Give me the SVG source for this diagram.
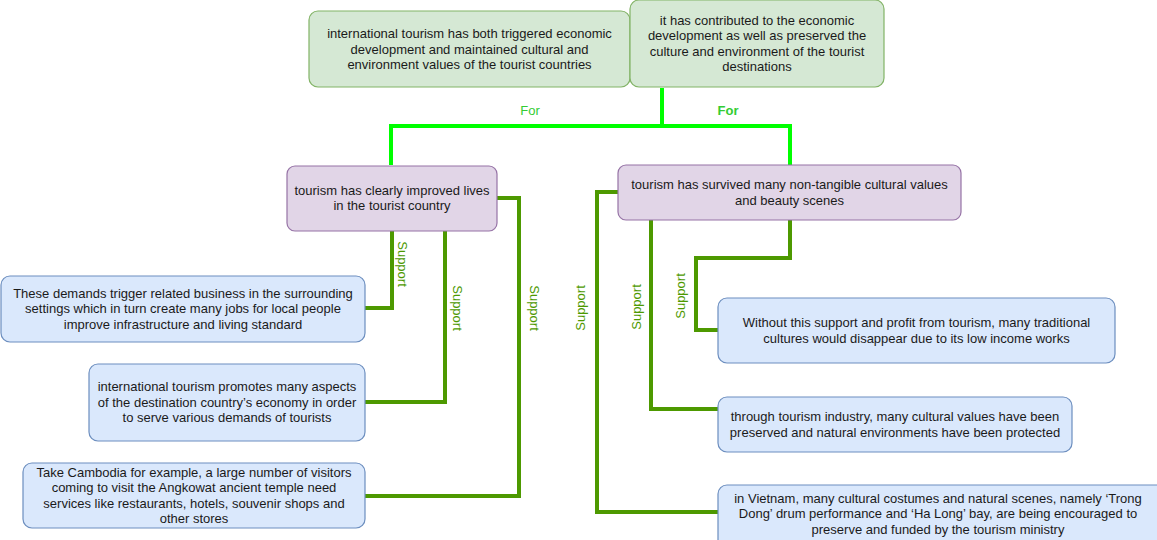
<svg xmlns="http://www.w3.org/2000/svg" width="1157" height="540" viewBox="0 0 1157 540">
<style>
  text { font-family: "Liberation Sans", Arial, Helvetica, sans-serif; font-size: 13px; fill: #1a1a1a; text-anchor: middle; }
  .green { fill: #d5e8d4; stroke: #82b366; stroke-width: 1.2; }
  .purple { fill: #e1d5e7; stroke: #9673a6; stroke-width: 1.2; }
  .blue { fill: #dae8fc; stroke: #6c8ebf; stroke-width: 1.2; }
  .for { fill: none; stroke: #00ff00; stroke-width: 4; }
  .sup { fill: none; stroke: #4d9900; stroke-width: 4; }
  .forlbl { fill: #33cc33; font-size: 13px; }
  .suplbl { fill: #4d9900; font-size: 13px; dominant-baseline: central; }
</style>
<rect width="1157" height="540" fill="#ffffff"/>
<g id="connectors">
  <path class="for" d="M662,88 V126 H391 V165"/>
  <path class="for" d="M662,126 H790 V165"/>
  <text class="forlbl" x="530" y="115">For</text>
  <text class="forlbl" x="728" y="115" font-weight="bold">For</text>
  <path class="sup" d="M392,231 V308 H365"/>
  <path class="sup" d="M445,231 V402 H365"/>
  <path class="sup" d="M497,198 H519 V496 H365"/>
  <path class="sup" d="M618,192 H597 V512 H718"/>
  <path class="sup" d="M651,220 V409 H718"/>
  <path class="sup" d="M790,220 V258 H696 V330 H718"/>
  <text class="suplbl" transform="translate(402,264) rotate(90)">Support</text>
  <text class="suplbl" transform="translate(457,308) rotate(90)">Support</text>
  <text class="suplbl" transform="translate(534,308) rotate(90)">Support</text>
  <text class="suplbl" transform="translate(580,308) rotate(-90)">Support</text>
  <text class="suplbl" transform="translate(636,307) rotate(-90)">Support</text>
  <text class="suplbl" transform="translate(680,296) rotate(-90)">Support</text>
</g>
<g id="nodeA">
  <rect class="green" x="309" y="11" width="321" height="76" rx="9"/>
  <text x="469.5" y="38">international tourism has both triggered economic</text>
  <text x="469.5" y="53.5">development and maintained cultural and</text>
  <text x="469.5" y="69">environment values of the tourist countries</text>
</g>
<g id="nodeB">
  <rect class="green" x="630" y="0" width="254" height="87" rx="9"/>
  <text x="757" y="24.5">it has contributed to the economic</text>
  <text x="757" y="40">development as well as preserved the</text>
  <text x="757" y="55.5">culture and environment of the tourist</text>
  <text x="757" y="71">destinations</text>
</g>
<g id="nodeC">
  <rect class="purple" x="287" y="166" width="210" height="65" rx="8"/>
  <text x="392" y="194.5">tourism has clearly improved lives</text>
  <text x="392" y="210">in the tourist country</text>
</g>
<g id="nodeD">
  <rect class="purple" x="618" y="165" width="343" height="55" rx="8"/>
  <text x="789.5" y="189">tourism has survived many non-tangible cultural values</text>
  <text x="789.5" y="204.5">and beauty scenes</text>
</g>
<g id="nodeE">
  <rect class="blue" x="1" y="276" width="364" height="66" rx="9"/>
  <text x="183" y="297.5">These demands trigger related business in the surrounding</text>
  <text x="183" y="313">settings which in turn create many jobs for local people</text>
  <text x="183" y="328.5">improve infrastructure and living standard</text>
</g>
<g id="nodeF">
  <rect class="blue" x="89" y="364" width="276" height="77" rx="9"/>
  <text x="227" y="391">international tourism promotes many aspects</text>
  <text x="227" y="406.5">of the destination country’s economy in order</text>
  <text x="227" y="422">to serve various demands of tourists</text>
</g>
<g id="nodeG">
  <rect class="blue" x="23" y="463" width="342" height="65" rx="9"/>
  <text x="194" y="476.5">Take Cambodia for example, a large number of visitors</text>
  <text x="194" y="492">coming to visit the Angkowat ancient temple need</text>
  <text x="194" y="507.5">services like restaurants, hotels, souvenir shops and</text>
  <text x="194" y="523">other stores</text>
</g>
<g id="nodeH">
  <rect class="blue" x="718" y="298" width="397" height="65" rx="9"/>
  <text x="916.5" y="327">Without this support and profit from tourism, many traditional</text>
  <text x="916.5" y="342.5">cultures would disappear due to its low income works</text>
</g>
<g id="nodeI">
  <rect class="blue" x="718" y="397" width="354" height="55" rx="9"/>
  <text x="895" y="421">through tourism industry, many cultural values have been</text>
  <text x="895" y="436.5">preserved and natural environments have been protected</text>
</g>
<g id="nodeJ">
  <rect class="blue" x="718" y="485" width="460" height="70" rx="9"/>
  <text x="938" y="502.5">in Vietnam, many cultural costumes and natural scenes, namely ‘Trong</text>
  <text x="938" y="518">Dong’ drum performance and ‘Ha Long’ bay, are being encouraged to</text>
  <text x="938" y="533.5">preserve and funded by the tourism ministry</text>
</g>
</svg>
